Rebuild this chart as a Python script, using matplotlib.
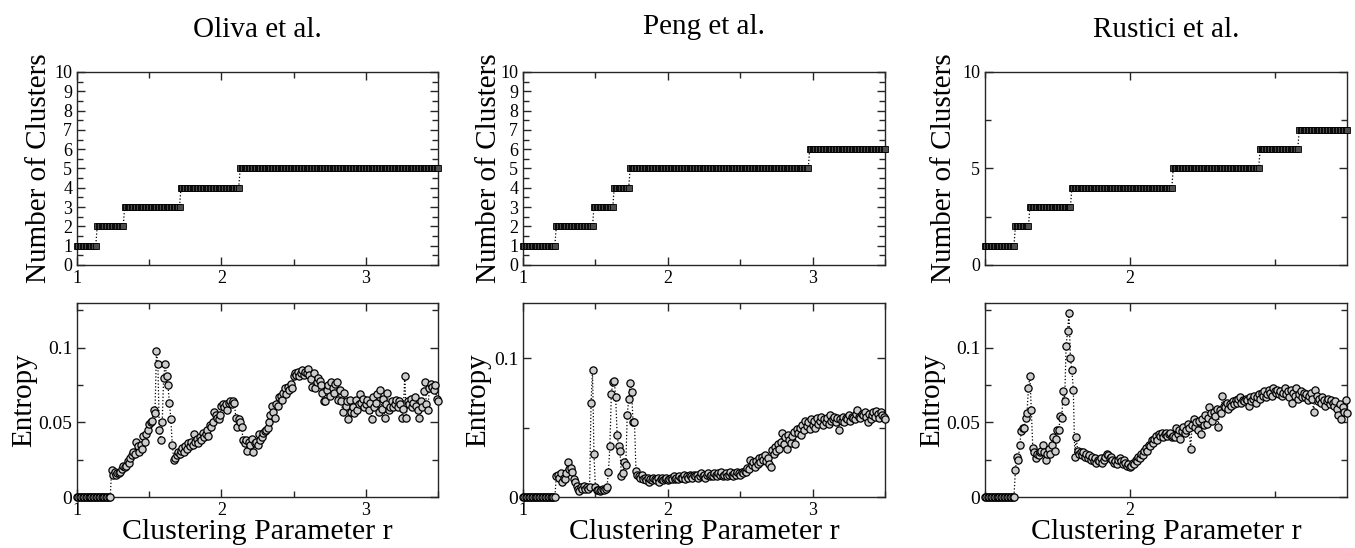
import matplotlib.pyplot as plt
import numpy as np
from matplotlib.ticker import MultipleLocator

plt.rcParams['font.family'] = ['Liberation Serif', 'DejaVu Serif']

W, H = 1355, 548

# 采样网格 (clustering parameter r)
r_oliva = np.round(np.arange(1.0, 3.5001, 0.01), 3)
r_peng = np.round(np.arange(1.0, 3.5001, 0.01), 3)
r_rustici = np.round(np.arange(1.5, 2.7501, 0.005), 4)

# 聚类数的台阶位置 (r 处簇数加一)
oliva_breaks = [1.14, 1.33, 1.72, 2.13]
peng_breaks = [1.23, 1.49, 1.63, 1.74, 2.98]
rustici_breaks = [1.605, 1.655, 1.80, 2.15, 2.45, 2.585]

# 熵
oliva_entropy = [0.0] * 24 + [
    0.018, 0.015, 0.017, 0.015, 0.016, 0.016, 0.017, 0.019, 0.021, 0.020,
    0.021, 0.024, 0.023, 0.026, 0.028, 0.030, 0.029, 0.037, 0.034, 0.030,
    0.035, 0.032, 0.041, 0.037, 0.042, 0.045, 0.049, 0.050, 0.051, 0.058,
    0.056, 0.098, 0.089, 0.045, 0.038, 0.050, 0.080, 0.089, 0.081, 0.075,
    0.063, 0.052, 0.035, 0.025,
    0.026, 0.028, 0.030, 0.029, 0.031, 0.033, 0.030, 0.034, 0.032, 0.036,
    0.034, 0.037, 0.035, 0.042, 0.037, 0.039, 0.036, 0.040, 0.038, 0.043,
    0.040, 0.042, 0.045, 0.041, 0.048, 0.047, 0.050, 0.057, 0.055, 0.053,
    0.052, 0.055, 0.061, 0.062, 0.060, 0.062, 0.058, 0.063, 0.064, 0.062,
    0.064, 0.063, 0.053, 0.047, 0.052, 0.050, 0.047, 0.038, 0.036, 0.038,
    0.031, 0.037, 0.035, 0.039, 0.030, 0.036, 0.037, 0.035, 0.042, 0.038,
    0.040, 0.043, 0.044, 0.045, 0.046, 0.050, 0.055, 0.061, 0.057, 0.053,
    0.062, 0.061, 0.067, 0.068, 0.065, 0.070, 0.073, 0.069, 0.074, 0.072,
    0.076, 0.073, 0.081, 0.083, 0.082, 0.084, 0.081, 0.083, 0.085, 0.082,
    0.084, 0.083, 0.086, 0.082, 0.079, 0.074, 0.083, 0.073, 0.077, 0.080,
    0.078, 0.075, 0.070, 0.064, 0.064, 0.072, 0.075, 0.068, 0.077, 0.073,
    0.070, 0.076, 0.077, 0.065, 0.072, 0.064, 0.057, 0.070, 0.061, 0.064,
    0.052, 0.065, 0.057, 0.060, 0.056, 0.065, 0.058, 0.062, 0.069, 0.063,
    0.066, 0.060, 0.062, 0.065, 0.058, 0.063, 0.052, 0.067, 0.060, 0.063,
    0.069, 0.057, 0.072, 0.059, 0.066, 0.053, 0.062, 0.070, 0.058, 0.060,
    0.064, 0.060, 0.062, 0.065, 0.060, 0.064, 0.062, 0.053, 0.059, 0.081,
    0.053, 0.064, 0.062, 0.066, 0.060, 0.063, 0.067, 0.061, 0.058, 0.053,
    0.064, 0.060, 0.071, 0.077, 0.062, 0.058, 0.073, 0.076, 0.074, 0.072,
    0.075, 0.066, 0.064,
]

peng_entropy = [0.0] * 23 + [
    0.015, 0.016, 0.014, 0.017, 0.011, 0.014, 0.013, 0.017, 0.025, 0.020,
    0.021, 0.018, 0.013, 0.011, 0.008, 0.006, 0.004, 0.007, 0.006, 0.008,
    0.006, 0.007, 0.006, 0.007, 0.068, 0.092, 0.031, 0.007, 0.005, 0.005,
    0.004, 0.005, 0.006, 0.005, 0.006, 0.007, 0.018, 0.037, 0.074, 0.083,
    0.084, 0.072, 0.045, 0.037, 0.033, 0.015, 0.017, 0.025, 0.023, 0.059,
    0.071, 0.082, 0.076, 0.054, 0.054, 0.019, 0.016,
    0.015, 0.014, 0.016, 0.013, 0.014, 0.012, 0.014, 0.011, 0.013, 0.012,
    0.014, 0.013, 0.012, 0.014, 0.011, 0.013, 0.014, 0.012, 0.013, 0.014,
    0.012, 0.013, 0.014, 0.013, 0.015, 0.013, 0.014, 0.013, 0.015, 0.014,
    0.014, 0.016, 0.013, 0.015, 0.014, 0.016, 0.015, 0.014, 0.016, 0.015,
    0.016, 0.014, 0.015, 0.017, 0.015, 0.016, 0.014, 0.016, 0.017, 0.015,
    0.016, 0.015, 0.017, 0.016, 0.015, 0.017, 0.016, 0.018, 0.015, 0.016,
    0.017, 0.015, 0.016, 0.018, 0.016, 0.015, 0.017, 0.016, 0.018, 0.017,
    0.016, 0.018, 0.017, 0.019, 0.018, 0.021, 0.020, 0.027, 0.023, 0.025,
    0.022, 0.026, 0.024, 0.028, 0.025, 0.029, 0.027, 0.030, 0.026, 0.028,
    0.024, 0.022, 0.034, 0.031, 0.036, 0.033, 0.038, 0.035, 0.040, 0.046,
    0.038, 0.043, 0.035, 0.045, 0.041, 0.039, 0.044, 0.047, 0.038, 0.049,
    0.046, 0.050, 0.045, 0.052, 0.048, 0.055, 0.051, 0.054, 0.049, 0.056,
    0.052, 0.055, 0.050, 0.057, 0.053, 0.055, 0.058, 0.052, 0.056, 0.054,
    0.057, 0.053, 0.059, 0.055, 0.056, 0.058, 0.054, 0.057, 0.048, 0.056,
    0.055, 0.058, 0.054, 0.057, 0.056, 0.059, 0.055, 0.058, 0.057, 0.056,
    0.060, 0.063, 0.058, 0.057, 0.060, 0.059, 0.061, 0.058, 0.054, 0.060,
    0.056, 0.059, 0.061, 0.058, 0.062, 0.060, 0.057, 0.061, 0.059, 0.058,
    0.056,
]

rustici_entropy = [0.0] * 21 + [
    0.018, 0.027, 0.025, 0.035, 0.044, 0.046, 0.046, 0.053, 0.056, 0.073,
    0.081, 0.058, 0.033, 0.030, 0.026, 0.029, 0.028, 0.030, 0.031, 0.035,
    0.030, 0.025, 0.029, 0.032, 0.029, 0.035, 0.040, 0.031, 0.039, 0.045,
    0.045, 0.054, 0.053, 0.071, 0.064, 0.101, 0.111, 0.123, 0.093, 0.085,
    0.072, 0.027, 0.040, 0.031,
    0.029, 0.030, 0.028, 0.030, 0.027, 0.029, 0.026, 0.028, 0.025, 0.027,
    0.024, 0.026, 0.023, 0.025, 0.024, 0.026, 0.023, 0.025, 0.027, 0.029,
    0.028, 0.026, 0.027, 0.025, 0.023, 0.024, 0.022, 0.025, 0.026, 0.024,
    0.022, 0.025, 0.023, 0.021, 0.022, 0.020,
    0.021, 0.023, 0.022, 0.025, 0.024, 0.027, 0.026, 0.029, 0.028, 0.031,
    0.033, 0.031, 0.035, 0.034, 0.038, 0.036, 0.039, 0.041, 0.038, 0.042,
    0.041, 0.043, 0.040, 0.042, 0.043, 0.041, 0.042, 0.043, 0.040, 0.041,
    0.040, 0.046, 0.042, 0.045, 0.039, 0.044, 0.047, 0.043, 0.045, 0.049,
    0.046, 0.032, 0.048, 0.052, 0.047, 0.050, 0.045, 0.051, 0.042, 0.052,
    0.048, 0.055, 0.049, 0.053, 0.060, 0.056, 0.051, 0.057, 0.054, 0.059,
    0.047, 0.058, 0.056, 0.068, 0.061, 0.060, 0.063, 0.059, 0.062, 0.061,
    0.064, 0.062, 0.065, 0.063, 0.066, 0.067, 0.063, 0.065, 0.064, 0.066,
    0.065, 0.061, 0.067, 0.064, 0.066, 0.068, 0.063, 0.067, 0.069, 0.066,
    0.070, 0.068, 0.071, 0.067, 0.069, 0.072, 0.070, 0.068, 0.073, 0.071,
    0.070, 0.072, 0.069, 0.071, 0.068, 0.070, 0.073, 0.069, 0.071, 0.067,
    0.072, 0.063, 0.070, 0.068, 0.073, 0.066, 0.069, 0.071, 0.067, 0.070,
    0.067, 0.069, 0.065, 0.068, 0.070, 0.066, 0.057, 0.072, 0.068, 0.064,
    0.066, 0.063, 0.067, 0.065, 0.061, 0.064, 0.066, 0.062, 0.065, 0.063,
    0.061, 0.064, 0.059, 0.055, 0.062, 0.052, 0.060, 0.057, 0.065, 0.056,
]

titles = ["Oliva et al.", "Peng et al.", "Rustici et al."]


def px_axes(fig, x0, y0, x1, y1):
    return fig.add_axes([x0 / W, 1 - y1 / H, (x1 - x0) / W, (y1 - y0) / H])


def style_axes(ax, xmaj, xmin, ymaj, ymin, ysize):
    ax.xaxis.set_major_locator(MultipleLocator(xmaj))
    ax.xaxis.set_minor_locator(MultipleLocator(xmin))
    ax.yaxis.set_major_locator(MultipleLocator(ymaj))
    ax.yaxis.set_minor_locator(MultipleLocator(ymin))
    ax.tick_params(which='both', direction='in', top=True, right=True, width=1.0, color='0.15')
    ax.tick_params(which='major', length=6, pad=3.5)
    ax.tick_params(which='minor', length=4.5)
    ax.tick_params(axis='x', labelsize=13)
    ax.tick_params(axis='y', labelsize=ysize)
    for s in ax.spines.values():
        s.set_linewidth(1.0)
        s.set_color('0.15')


fig = plt.figure(figsize=(W / 100, H / 100), dpi=100)

panels = [
    (r_oliva, oliva_breaks, oliva_entropy, 77, 438, (1.0, 3.5), 1, 0.5, (0, 0.13), 0.05, 0.025, 37),
    (r_peng, peng_breaks, peng_entropy, 523, 885, (1.0, 3.5), 1, 0.5, (0, 0.14), 0.1, 0.05, 34),
    (r_rustici, rustici_breaks, rustici_entropy, 985, 1347, (1.5, 2.75), 5, 2.5, (0, 0.13), 0.05, 0.025, 37),
]

ylab_x = [(39, 24), (489, 478), (944, 932)]

for k, (r, breaks, ent, x0, x1, xlim, cmaj, cmin, elim, emaj, emin, ty) in enumerate(panels):
    n_clusters = 1 + np.searchsorted(breaks, r, side='right')

    ax1 = px_axes(fig, x0, 72, x1, 265)
    ax1.plot(r, n_clusters, ls=':', lw=0.9, color='black', marker='s', ms=4.2,
             mfc='0.3', mec='black', mew=0.6, clip_on=False, zorder=3)
    ax1.set_xlim(*xlim)
    ax1.set_ylim(0, 10)
    style_axes(ax1, 1, 0.5, cmaj, cmin, 13)

    ax2 = px_axes(fig, x0, 303, x1, 497)
    ax2.plot(r, ent, ls=':', lw=0.9, color='black', marker='o', ms=5.2,
             mfc='0.8', mec='black', mew=0.9, clip_on=False, zorder=3)
    ax2.set_xlim(*xlim)
    ax2.set_ylim(*elim)
    style_axes(ax2, 1, 0.5, emaj, emin, 14)
    ax2.yaxis.set_major_formatter(lambda v, p: f"{v:g}")

    xc = (x0 + x1) / 2
    fig.text(xc / W, 1 - ty / H, titles[k], ha='center', va='baseline', fontsize=21)
    fig.text(xc / W, 1 - 539 / H, "Clustering Parameter r", ha='center', va='baseline', fontsize=21.5)
    fig.text(ylab_x[k][0] / W, 1 - 168 / H, "Number of Clusters", rotation=90,
             ha='center', va='center', fontsize=21)
    fig.text(ylab_x[k][1] / W, 1 - 400 / H, "Entropy", rotation=90,
             ha='center', va='center', fontsize=21)

fig.savefig("out.png", dpi=100)
